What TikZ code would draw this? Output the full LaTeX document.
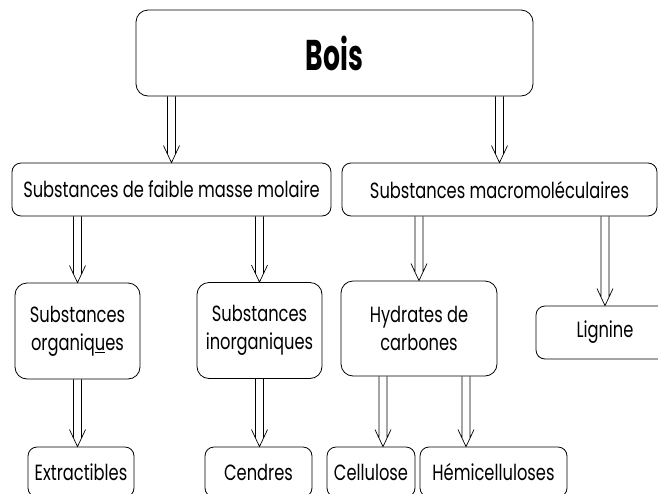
\documentclass[tikz,border=0pt]{standalone}
\usepackage{fontspec}
\setmainfont{Poppins}[FakeStretch=0.74, BoldFeatures={FakeStretch=0.62}]
\usetikzlibrary{positioning,calc,decorations.markings}

\begin{document}
\begin{tikzpicture}[
    x=1pt, y=-1pt,
    box/.style={
        draw,
        rounded corners=9pt,
        line width=0.8pt,
        align=center,
        inner sep=0pt,
        minimum height=53pt,
        font=\fontsize{22}{28}\selectfont
    },
    tallbox/.style={box, rounded corners=12pt, minimum height=96pt},
    dblarrow/.style={
        postaction={decorate, decoration={markings,
            mark=at position 1 with {
                \draw[line width=0.7pt]
                    (-\pgfdecoratedpathlength,4pt) -- (-8.5pt,4pt)
                    (-\pgfdecoratedpathlength,-4pt) -- (-8.5pt,-4pt)
                    (-17pt,8pt) -- (0pt,0pt) -- (-17pt,-8pt);
            }}}
    }
]
    \useasboundingbox (0,0) rectangle (658,493);

    % Root
    \node[box, rounded corners=12pt, minimum width=397pt, minimum height=86pt,
          font=\fontsize{43}{43}\selectfont\bfseries] (bois) at (334.5,53) {Bois};

    % Second level
    \node[box, minimum width=319pt] (faible) at (171.5,189.5) {Substances de faible masse molaire};
    \node[box, minimum width=315pt] (macro) at (499.5,189.5) {Substances macromoléculaires};

    % Third level
    \node[tallbox, minimum width=125pt] (organ) at (77.5,331) {Substances\\organiq\underline{u}es};
    \node[tallbox, minimum width=125pt] (inorg) at (259.5,330.5) {Substances\\inorganiques};
    \node[tallbox, minimum width=156pt, minimum height=95pt] (hydr) at (419,328.5) {Hydrates de\\carbones};
    \node[box, minimum width=138pt] (lign) at (605,332.5) {Lignine};

    % Fourth level
    \node[box, minimum width=106pt, minimum height=50pt] (extr) at (81,472) {Extractibles};
    \node[box, minimum width=107pt, minimum height=50pt] (cendr) at (258.5,472) {Cendres};
    \node[box, minimum width=88pt, minimum height=50pt] (cellu) at (371,472) {Cellulose};
    \node[box, minimum width=147pt, minimum height=50pt] (hemi) at (493.5,472) {Hémicelluloses};

    % Arrows
    \path[dblarrow] (faible.north |- bois.south) -- (faible.north);
    \path[dblarrow] (macro.north |- bois.south) -- (macro.north);
    \path[dblarrow] (organ.north |- faible.south) -- (organ.north);
    \path[dblarrow] (inorg.north |- faible.south) -- (inorg.north);
    \path[dblarrow] (hydr.north |- macro.south) -- (hydr.north);
    \path[dblarrow] (lign.north |- macro.south) -- (lign.north);
    \path[dblarrow] (organ.south) -- (organ.south |- extr.north);
    \path[dblarrow] (inorg.south) -- (inorg.south |- cendr.north);
    \path[dblarrow] ([xshift=-36pt]hydr.south) -- ([xshift=-36pt]hydr.south |- cellu.north);
    \path[dblarrow] ([xshift=47pt]hydr.south) -- ([xshift=47pt]hydr.south |- hemi.north);
\end{tikzpicture}
\end{document}
